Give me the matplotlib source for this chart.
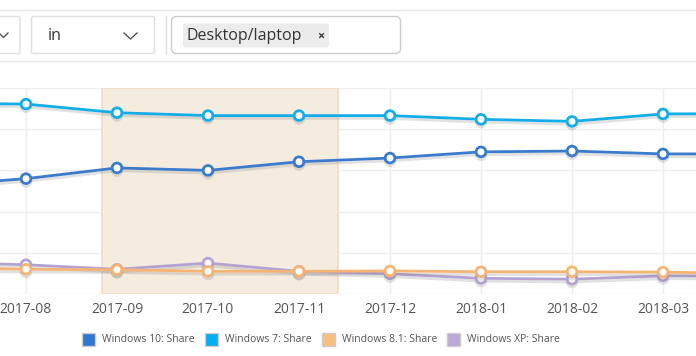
import matplotlib
matplotlib.use("Agg")
import matplotlib.pyplot as plt
import matplotlib.patheffects as pe
from matplotlib.patches import FancyBboxPatch, Rectangle

plt.rcParams['font.family'] = ['Open Sans', 'DejaVu Sans']

months = ["2017-07", "2017-08", "2017-09", "2017-10", "2017-11", "2017-12",
          "2018-01", "2018-02", "2018-03", "2018-04"]
win10 = [26.3, 28.0, 30.6, 30.0, 32.1, 33.0, 34.5, 34.7, 34.0, 34.0]
win7 = [46.3, 46.1, 44.0, 43.3, 43.3, 43.3, 42.4, 41.9, 43.7, 43.8]
win81 = [6.4, 6.0, 5.9, 5.5, 5.5, 5.6, 5.4, 5.4, 5.3, 5.0]
winxp = [7.7, 7.1, 6.0, 7.5, 5.5, 4.9, 3.8, 3.6, 4.4, 4.3]
series_names = ["Windows 10: Share", "Windows 7: Share", "Windows 8.1: Share", "Windows XP: Share"]
line_colors = ["#3a7bcc", "#14ade8", "#f6b474", "#b4a2d2"]
legend_colors = ["#2f76d0", "#00aeef", "#f8bf80", "#bcaad6"]
highlight = (1.835, 4.43)

W, H = 696, 356
fig = plt.figure(figsize=(W / 100, H / 100), dpi=100)

# chart axes: y 88..294 px, x index mapped so month i at -65 + 91*i px
ax = fig.add_axes([0, (H - 294) / H, 1, (294 - 88) / H])
x = list(range(len(months)))
ax.axvspan(*highlight, facecolor="#f5ece0", edgecolor="#efdcc4", lw=1.2, zorder=1)
for v in range(0, 51, 10):
    ax.axhline(v, color="#eeeeee", lw=1, zorder=0.5)
for xi in x:
    ax.axvline(xi, color="#eeeeee", lw=1, zorder=0.5)
for ys, c in zip([winxp, win81, win10, win7], [line_colors[3], line_colors[2], line_colors[0], line_colors[1]]):
    ax.plot(x, ys, color=c, lw=2, marker="o", ms=7, mfc="white", mec=c, mew=2, zorder=3,
            path_effects=[pe.SimpleLineShadow(offset=(0, -2), shadow_color="#888888", alpha=0.25), pe.Normal()])
for s in ax.spines.values():
    s.set_visible(False)
ax.set_xticks(x[1:9])
ax.set_xticklabels(months[1:9], fontsize=10, color="#555555")
ax.tick_params(axis="x", length=0, pad=6)
ax.set_yticks([])
ax.set_xlim(65 / 91, (W + 65) / 91)
ax.set_ylim(0, 50)

# overlay in pixel coords
ov = fig.add_axes([0, 0, 1, 1], zorder=5)
ov.set_xlim(0, W)
ov.set_ylim(H, 0)
ov.axis("off")
ov.patch.set_alpha(0)

ov.plot([0, W], [10, 10], color="#e6e6e6", lw=1)
ov.plot([0, W], [61, 61], color="#e6e6e6", lw=1)
ov.add_patch(FancyBboxPatch((-20, 16.5), 40, 37, boxstyle="round,pad=0,rounding_size=2",
                            fc="white", ec="#e0e0e0", lw=1))
ov.plot([-1, 3.5, 8], [33, 37.5, 33], color="#555555", lw=1)
ov.add_patch(FancyBboxPatch((31.5, 16.5), 123, 37, boxstyle="round,pad=0,rounding_size=2",
                            fc="white", ec="#e0e0e0", lw=1))
ov.text(48, 36, "in", fontsize=11.5, color="#333333", va="center", ha="left")
ov.plot([124, 130.5, 137], [33, 39, 33], color="#555555", lw=1)
ov.plot([165.5, 165.5], [16, 54], color="#e0e0e0", lw=1)
ov.add_patch(FancyBboxPatch((171.5, 16.5), 229, 37, boxstyle="round,pad=0,rounding_size=5",
                            fc="white", ec="#cccccc", lw=1))
ov.add_patch(FancyBboxPatch((183, 23.5), 146, 24, boxstyle="round,pad=0,rounding_size=3",
                            fc="#ececec", ec="none"))
ov.text(186, 36, "Desktop/laptop", fontsize=11.5, color="#333333", va="center", ha="left")
ov.text(321, 36, "×", fontsize=9, color="#333333", va="center", ha="center", fontweight="bold")

# legend
sq_x = [82, 205, 322, 447]
for sx, name, col in zip(sq_x, series_names, legend_colors):
    ov.add_patch(Rectangle((sx, 333), 13, 13, fc=col, ec="#cccccc", lw=1))
    ov.text(sx + 20, 339.5, name, fontsize=7.5, color="#555555", va="center", ha="left")

fig.savefig("out.png", dpi=100)
